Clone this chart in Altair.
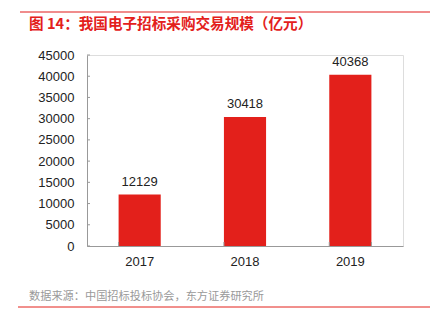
import altair as alt
import pandas as pd

years = ["2017", "2018", "2019"]
values = [12129, 30418, 40368]
y_ticks = [0, 5000, 10000, 15000, 20000, 25000, 30000, 35000, 40000, 45000]
title_text = "图 14：我国电子招标采购交易规模（亿元）"
source_text = "数据来源：中国招标投标协会，东方证券研究所"

RED = "#E3201B"
W, H = 316, 191
LEFT, TOP = 87, 55

df = pd.DataFrame({"year": years, "value": values})
tick_df = pd.DataFrame({"t": y_ticks})

xs = alt.Scale(paddingInner=0.6, paddingOuter=0.3)
ys = alt.Scale(domain=[0, 45000])

x_axis = alt.Axis(labelAngle=0, ticks=False, labelPadding=9, labelFontSize=13,
                  labelColor="#222", labelFont="Liberation Sans",
                  domainColor="#999", domainWidth=1, title=None)
y_axis = alt.Axis(values=y_ticks, format="d", labelOverlap=False, ticks=False,
                  grid=False, labelPadding=13,
                  labelFontSize=13, labelColor="#222", labelFont="Liberation Sans",
                  domainColor="#999", domainWidth=1, title=None)

base = alt.Chart(df)

bars = base.mark_bar(color=RED).encode(
    x=alt.X("year:N", scale=xs, axis=x_axis, title=None),
    y=alt.Y("value:Q", scale=ys, axis=y_axis, title=None),
)

labels = base.mark_text(dy=-13, fontSize=13, color="#222", font="Liberation Sans").encode(
    x=alt.X("year:N", scale=xs, axis=x_axis, title=None),
    y=alt.Y("value:Q", scale=ys, axis=y_axis, title=None),
    text="value:N",
)

yticks = alt.Chart(tick_df).mark_rule(color="#999", strokeWidth=1).encode(
    y=alt.Y("t:Q", scale=ys, axis=y_axis, title=None),
    x=alt.value(0),
    x2=alt.value(3),
)

xticks0 = base.mark_rule(color="#999", strokeWidth=1).encode(
    x=alt.X("year:N", scale=xs, bandPosition=0, axis=x_axis, title=None),
    y=alt.value(H),
    y2=alt.value(H - 4),
)
xticks1 = alt.Chart(df.tail(1)).mark_rule(color="#999", strokeWidth=1).encode(
    x=alt.X("year:N", scale=xs, bandPosition=1, axis=x_axis, title=None),
    y=alt.value(H),
    y2=alt.value(H - 4),
)

top_line = alt.Chart(df.head(1)).mark_rule(color="#F08C8C", strokeWidth=2).encode(
    x=alt.value(20 - LEFT), x2=alt.value(430 - LEFT), y=alt.value(12 - TOP)
)
bottom_line = alt.Chart(df.head(1)).mark_rule(color=RED, strokeWidth=1).encode(
    x=alt.value(18 - LEFT), x2=alt.value(430 - LEFT), y=alt.value(307 - TOP)
)
title = alt.Chart(df.head(1)).mark_text(
    align="left", baseline="middle", fontSize=14.6, fontWeight="bold",
    color=RED, font="Noto Sans CJK SC", text=title_text
).encode(x=alt.value(29 - LEFT), y=alt.value(25 - TOP))
source = alt.Chart(df.head(1)).mark_text(
    align="left", baseline="middle", fontSize=11.2, color="#999",
    font="Noto Sans CJK SC", text=source_text
).encode(x=alt.value(29 - LEFT), y=alt.value(297 - TOP))

chart = alt.layer(bars, labels, yticks, xticks0, xticks1, top_line, bottom_line, title, source).properties(
    width=W, height=H,
    autosize=alt.AutoSizeParams(type="none"),
    padding={"left": LEFT, "top": TOP, "right": 438 - LEFT - W, "bottom": 325 - TOP - H},
).configure_view(stroke=None).configure(background="white").configure_axisY(labelOverlap=False)

chart.save("out.html", embed_options={"renderer": "svg", "actions": False})
